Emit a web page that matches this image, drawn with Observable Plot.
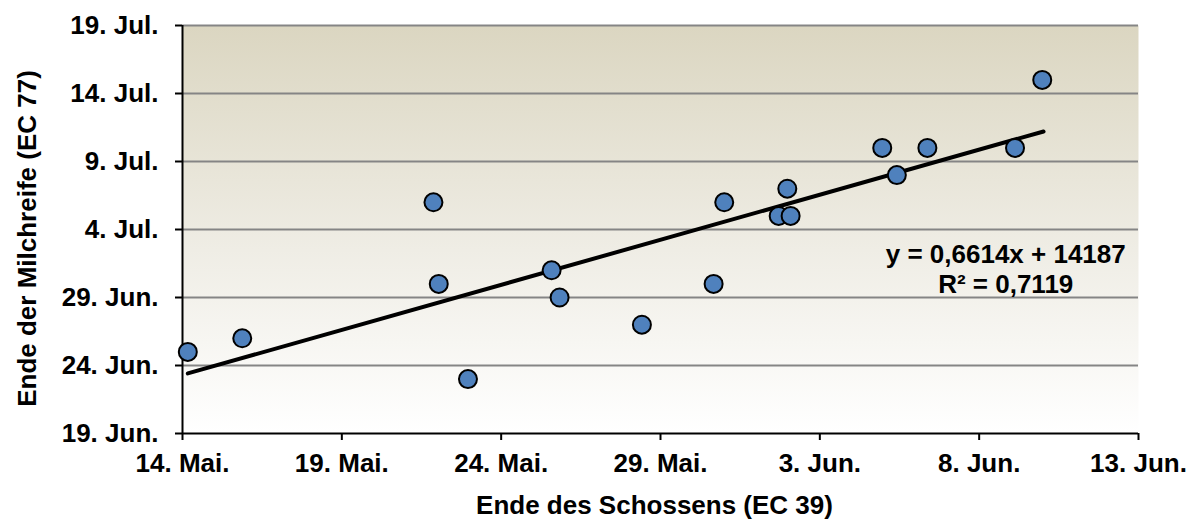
<!DOCTYPE html>
<html>
<head>
<meta charset="utf-8">
<script src="https://cdn.jsdelivr.net/npm/d3@7"></script>
<script src="https://cdn.jsdelivr.net/npm/@observablehq/plot@0.6"></script>
<style>
  html, body { margin: 0; padding: 0; background: #ffffff; }
  #chart { width: 1194px; height: 520px; }
</style>
</head>
<body>
<div id="chart"></div>
<script>
// Ende des Schossens (EC 39) — x values (dates)
const schossen = [
  "2014-05-14T04:00Z", "2014-05-15T21:00Z", "2014-05-21T21:00Z", "2014-05-22T01:00Z",
  "2014-05-22T23:00Z", "2014-05-25T14:00Z", "2014-05-25T20:00Z", "2014-05-28T10:00Z",
  "2014-05-30T16:00Z", "2014-05-31T00:00Z", "2014-06-01T17:00Z", "2014-06-01T23:30Z",
  "2014-06-02T02:00Z", "2014-06-04T23:00Z", "2014-06-05T10:00Z", "2014-06-06T09:00Z",
  "2014-06-09T03:00Z", "2014-06-09T23:30Z"
];
// Ende der Milchreife (EC 77) — y values (dates)
const milchreife = [
  "2014-06-25", "2014-06-26", "2014-07-06", "2014-06-30",
  "2014-06-23", "2014-07-01", "2014-06-29", "2014-06-27",
  "2014-06-30", "2014-07-06", "2014-07-05", "2014-07-07",
  "2014-07-05", "2014-07-10", "2014-07-08", "2014-07-10",
  "2014-07-10", "2014-07-15"
];
// linear trend line end points
const trendX = ["2014-05-14T04:00Z", "2014-06-10T00:30Z"];
const trendY = ["2014-06-23T10:00Z", "2014-07-11T05:00Z"];
// trend equation label
const eqText = ["y = 0,6614x + 14187\nR² = 0,7119"];
const eqX = ["2014-06-08T20:00Z"];
const eqY = ["2014-07-01T03:00Z"];

const xTickDates = ["2014-05-14", "2014-05-19", "2014-05-24", "2014-05-29", "2014-06-03", "2014-06-08", "2014-06-13"];
const xTickLabels = ["14. Mai.", "19. Mai.", "24. Mai.", "29. Mai.", "3. Jun.", "8. Jun.", "13. Jun."];
const yTickDates = ["2014-06-19", "2014-06-24", "2014-06-29", "2014-07-04", "2014-07-09", "2014-07-14", "2014-07-19"];
const yTickLabels = ["19. Jun.", "24. Jun.", "29. Jun.", "4. Jul.", "9. Jul.", "14. Jul.", "19. Jul."];

const xLabel = "Ende des Schossens (EC 39)";
const yLabel = "Ende der Milchreife (EC 77)";

const P = s => new Date(s);
const points = schossen.map((s, i) => ({x: P(s), y: P(milchreife[i])}));
const trend = trendX.map((s, i) => ({x: P(s), y: P(trendY[i])}));
const eq = eqText.map((t, i) => ({x: P(eqX[i]), y: P(eqY[i]), t}));
const xTicks = xTickDates.map(P);
const yTicks = yTickDates.map(P);
const fmtX = d => xTickLabels[xTicks.findIndex(t => +t === +d)];
const fmtY = d => yTickLabels[yTicks.findIndex(t => +t === +d)];

const FONT = "'Liberation Sans', Arial, Helvetica, sans-serif";

const plot = Plot.plot({
  width: 1194,
  height: 520,
  marginLeft: 182,
  marginRight: 56,
  marginTop: 25,
  marginBottom: 87,
  style: {fontFamily: FONT, fontSize: "26px", fontWeight: "bold", color: "#000", background: "transparent", overflow: "visible"},
  x: {type: "utc", domain: [xTicks[0], xTicks[xTicks.length - 1]]},
  y: {type: "utc", domain: [yTicks[0], yTicks[yTicks.length - 1]]},
  marks: [
    Plot.frame({fill: "url(#bgGrad)", stroke: "none"}),
    Plot.gridY(yTicks.slice(1), {stroke: "#858585", strokeOpacity: 1, strokeWidth: 2}),
    Plot.ruleX([xTicks[0]], {stroke: "#000", strokeWidth: 2}),
    Plot.ruleY([yTicks[0]], {stroke: "#000", strokeWidth: 2}),
    Plot.axisX(xTicks, {tickSize: 7, tickPadding: 13, tickFormat: fmtX, strokeWidth: 2,
      fontSize: 26, label: null}),
    Plot.axisY(yTicks, {tickSize: 7, tickPadding: 17, tickFormat: fmtY, strokeWidth: 2,
      fontSize: 26, label: null}),
    Plot.text([xLabel], {frameAnchor: "bottom", dx: -6, dy: 72, fontSize: 26, fontWeight: "bold",
      textAnchor: "middle", lineAnchor: "middle"}),
    Plot.text([yLabel], {frameAnchor: "left", dx: -155, dy: 9, rotate: -90, fontSize: 26, fontWeight: "bold",
      textAnchor: "middle", lineAnchor: "middle"}),
    Plot.line(trend, {x: "x", y: "y", stroke: "#000", strokeWidth: 4}),
    Plot.dot(points, {x: "x", y: "y", r: 9, fill: "#4f81bd", stroke: "#000", strokeWidth: 2}),
    Plot.text(eq, {x: "x", y: "y", text: "t", fontSize: 26, fontWeight: "bold", lineHeight: 1.15, textAnchor: "middle"})
  ]
});

// gradient background definition
const ns = "http://www.w3.org/2000/svg";
const defs = document.createElementNS(ns, "defs");
const grad = document.createElementNS(ns, "linearGradient");
grad.setAttribute("id", "bgGrad");
grad.setAttribute("x1", "0"); grad.setAttribute("y1", "0");
grad.setAttribute("x2", "0"); grad.setAttribute("y2", "1");
[["0%", "#dbd6c1"], ["55%", "#efede5"], ["100%", "#ffffff"]].forEach(([o, c]) => {
  const s = document.createElementNS(ns, "stop");
  s.setAttribute("offset", o); s.setAttribute("stop-color", c);
  grad.appendChild(s);
});
defs.appendChild(grad);
plot.prepend(defs);

document.getElementById("chart").appendChild(plot);
</script>
</body>
</html>
